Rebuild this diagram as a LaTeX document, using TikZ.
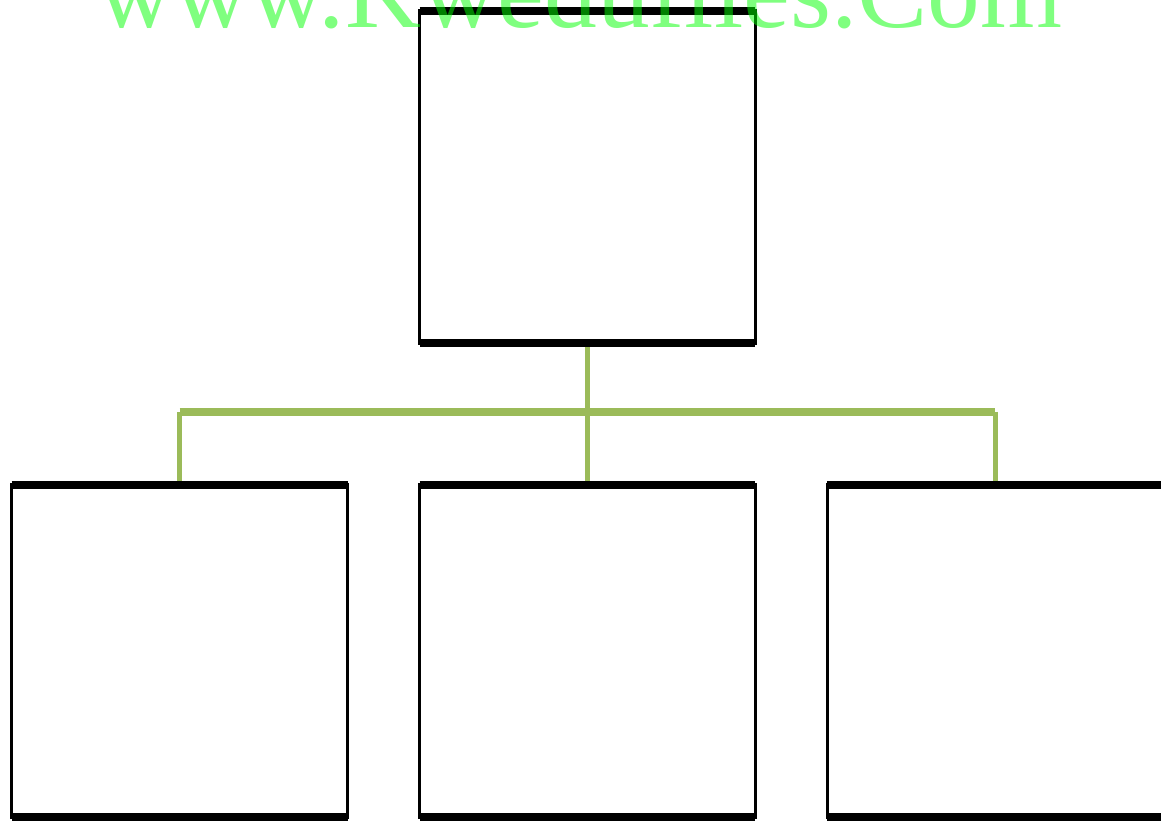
\documentclass[tikz,border=0pt]{standalone}
\usepackage{fontspec}
\setmainfont{Liberation Serif}
\usetikzlibrary{positioning}
\definecolor{sprout}{HTML}{9BBB59}
\tikzset{
  unit/.style={draw=black,fill=white,line width=0.07cm,outer sep=0pt,inner sep=0pt,
               minimum width=6.72cm,minimum height=6.65cm},
  rim/.style={draw=black,line width=0.16cm},
  trunk/.style={draw=sprout,line width=0.15cm},
  twig/.style={draw=sprout,line width=0.09cm},
  stamp/.style={text=green,text opacity=0.5,inner sep=0pt,
                font=\fontsize{60}{60}\selectfont}
}

\begin{document}
\begin{tikzpicture}[x=0.02cm,y=-0.02cm,node distance=2.83cm and 1.44cm]
    \useasboundingbox (0,0) rectangle (1161,821);
    \node[unit] (head) at (587.5,177.25) {};
    \node[unit,below=of head] (midunit) {};
    \node[unit,left=of midunit] (leftunit) {};
    \node[unit,right=of midunit] (rightunit) {};
    \coordinate[below=1.37cm of head.south] (bus);

    \path (head.south) edge[twig] (midunit.north);
    \path (leftunit.north |- bus) edge[trunk] (rightunit.north |- bus);
    \path (leftunit.north |- bus) edge[twig] (leftunit.north);
    \path (rightunit.north |- bus) edge[twig] (rightunit.north);

    \foreach \n in {head,leftunit,midunit,rightunit}
      \draw[rim] (\n.north west) -- (\n.north east) (\n.south west) -- (\n.south east);

    \node[stamp,anchor=base west] (site) at (97,28) {www.Kwedufiles.Com};
  \end{tikzpicture}
\end{document}
